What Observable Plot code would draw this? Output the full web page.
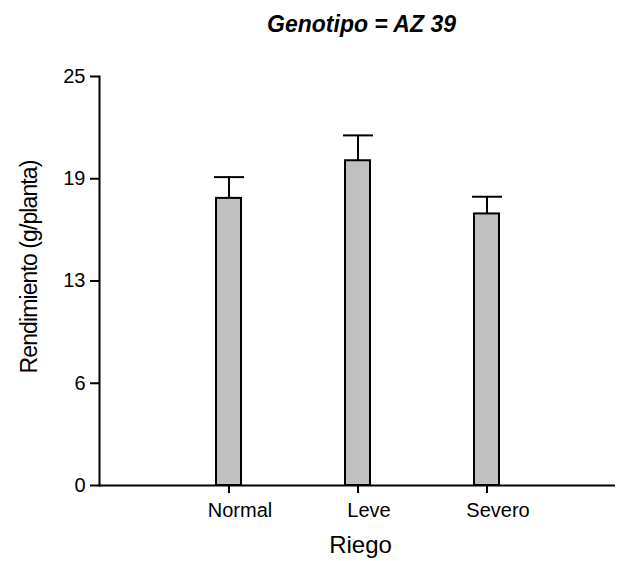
<!DOCTYPE html>
<html><head><meta charset="utf-8">
<script src="https://cdn.jsdelivr.net/npm/d3@7"></script>
<script src="https://cdn.jsdelivr.net/npm/@observablehq/plot@0.6"></script>
<style>body{margin:0;background:#fff}</style>
</head><body><div id="chart"></div>
<script>
const categories = ["Normal", "Leve", "Severo"];
const means = [17.55, 19.85, 16.6];
const errors = [1.3, 1.55, 1.05];
const yTicks = [0, 6.25, 12.5, 18.75, 25];
const yTickLabels = ["0", "6", "13", "19", "25"];
const title = "Genotipo = AZ 39";
const xLabel = "Riego";
const yLabel = "Rendimiento (g/planta)";

const data = categories.map((c, i) => ({cat: c, mean: means[i], top: means[i] + errors[i]}));

const chart = Plot.plot({
  width: 618, height: 561,
  marginTop: 76, marginBottom: 76, marginLeft: 99, marginRight: 3,
  style: {fontFamily: "'Liberation Sans', Arial, sans-serif", fontSize: "20px", background: "#fff", color: "#000"},
  x: {type: "band", domain: categories, paddingInner: 0.81, paddingOuter: 0.905, label: null},
  y: {domain: [0, 25], label: null},
  marks: [
    Plot.barY(data, {x: "cat", y: "mean", fill: "#c0c0c0", stroke: "#000", strokeWidth: 2}),
    Plot.ruleX(data, {x: "cat", y1: "mean", y2: "top", stroke: "#000", strokeWidth: 2}),
    Plot.tickY(data, {x: "cat", y: "top", stroke: "#000", strokeWidth: 2, insetLeft: -2, insetRight: -3}),
    Plot.axisY({ticks: yTicks, tickFormat: d => yTickLabels[yTicks.indexOf(d)], tickSize: 9, tickPadding: 5, strokeWidth: 2, fontSize: 20, label: null}),
    Plot.axisX({text: null, tickSize: 8, strokeWidth: 2, label: null}),
    Plot.axisX({tickSize: 0, tickPadding: 17, dx: 11, fontSize: 20, label: null}),
    Plot.frame({anchor: "left", strokeWidth: 2}),
    Plot.ruleY([0], {strokeWidth: 2}),
    Plot.text([title], {frameAnchor: "top", dy: -61, dx: 4, fontWeight: "bold", fontStyle: "italic", fontSize: 23}),
    Plot.text([yLabel], {frameAnchor: "left", textAnchor: "middle", lineAnchor: "middle", rotate: -90, dx: -70, dy: -14, fontSize: 23}),
    Plot.text([xLabel], {frameAnchor: "bottom", textAnchor: "middle", lineAnchor: "middle", dy: 60, dx: 3, fontSize: 24})
  ]
});
d3.select(chart).selectAll("text").filter(function () { return this.textContent === yLabel; }).style("letter-spacing", "-0.9px");
document.getElementById("chart").appendChild(chart);
</script>
</body></html>
